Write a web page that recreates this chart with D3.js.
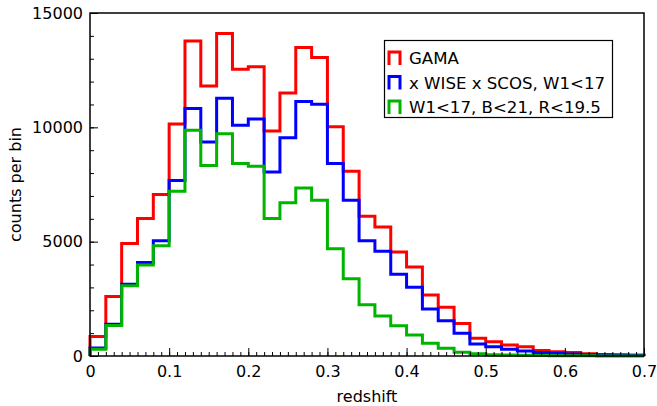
<!DOCTYPE html>
<html><head><meta charset="utf-8">
<script src="https://cdn.jsdelivr.net/npm/d3@7"></script>
<style>body{margin:0;background:#fff}svg{display:block}text{font-family:"DejaVu Sans",sans-serif}</style>
</head><body><div id="chart"></div>
<script>
const binStart = 0, binWidth = 0.02;
const gama = [850,2600,4920,6010,7060,10150,13780,11810,14100,12540,12650,9840,11500,13490,13050,10030,8080,6110,5640,4550,3890,2670,2130,1420,780,620,480,400,240,190,150,100,70,60,40];
const wise = [350,1390,3140,4090,5040,7680,10820,9360,11270,10090,10360,8050,9540,11130,11010,8420,6810,5040,4580,3580,3010,2050,1540,1000,520,400,290,220,150,120,90,60,40,30,20];
const cut = [300,1330,3070,3980,4820,7210,9870,8330,9720,8420,8300,6010,6700,7350,6810,4690,3380,2240,1750,1320,920,560,340,160,100,60,40,30,20,15,10,8,5,4,3];
const seriesNames = ["GAMA","x WISE x SCOS, W1<17","W1<17, B<21, R<19.5"];
const seriesColors = ["#ff0000","#0000ff","#00b400"];
const xTicks = [0,0.1,0.2,0.3,0.4,0.5,0.6,0.7];
const yTicks = [0,5000,10000,15000];

const W=657,H=406,FS=16;
const m={l:90,r:13,t:13,b:50};
const svg=d3.select("#chart").append("svg").attr("width",W).attr("height",H);
const x=d3.scaleLinear().domain([0,0.7]).range([m.l,W-m.r]);
const y=d3.scaleLinear().domain([0,15000]).range([H-m.b,m.t]);

function stepPts(vals){
  const pts=[[binStart,0]];
  vals.forEach((v,i)=>{pts.push([binStart+i*binWidth,v]);pts.push([binStart+(i+1)*binWidth,v]);});
  pts.push([binStart+vals.length*binWidth,0]);
  return pts;
}
const line=d3.line().x(d=>x(d[0])).y(d=>y(d[1]));
const g=svg.append("g");
[gama,wise,cut].forEach((vals,i)=>{
  g.append("path").attr("d",line(stepPts(vals))).attr("fill","none")
   .attr("stroke",seriesColors[i]).attr("stroke-width",3).attr("stroke-linejoin","miter");
});

// frame
svg.append("rect").attr("x",x(0)).attr("y",y(15000)).attr("width",x(0.7)-x(0)).attr("height",y(0)-y(15000))
  .attr("fill","none").attr("stroke","#000").attr("stroke-width",1.5);

// x axis
const xa=svg.append("g").attr("transform",`translate(0,${y(0)})`);
xa.call(d3.axisBottom(x).tickValues(d3.range(0,71).map(i=>i/100)).tickSize(-4).tickFormat(""));
xa.select(".domain").remove();
const xa2=svg.append("g").attr("transform",`translate(0,${y(0)})`);
xa2.call(d3.axisBottom(x).tickValues(xTicks).tickSize(-8).tickPadding(10).tickFormat(d=>d===0?"0":d3.format(".1f")(d)));
xa2.select(".domain").remove();
// y axis
const ya=svg.append("g").attr("transform",`translate(${x(0)},0)`);
ya.call(d3.axisLeft(y).tickValues(d3.range(0,15001,1000)).tickSize(-4).tickFormat(""));
ya.select(".domain").remove();
const ya2=svg.append("g").attr("transform",`translate(${x(0)},0)`);
ya2.call(d3.axisLeft(y).tickValues(yTicks).tickSize(-8).tickPadding(7).tickFormat(d3.format("d")));
ya2.select(".domain").remove();
svg.selectAll(".tick line").attr("stroke","#000").attr("stroke-width",1);
svg.selectAll(".tick text").attr("font-size",FS).attr("fill","#000").attr("font-family","DejaVu Sans");

svg.append("text").attr("x",(x(0)+x(0.7))/2).attr("y",402).attr("text-anchor","middle")
  .attr("font-size",FS).text("redshift");
svg.append("text").attr("transform",`translate(21,${(y(0)+y(15000))/2}) rotate(-90)`).attr("text-anchor","middle")
  .attr("font-size",FS).text("counts per bin");

// legend
const lg=svg.append("g");
lg.append("rect").attr("x",384.5).attr("y",40.5).attr("width",228).attr("height",77)
  .attr("fill","#fff").attr("stroke","#000").attr("stroke-width",1.2);
seriesNames.forEach((n,i)=>{
  const cy=58+i*24.5;
  lg.append("path").attr("d",`M389,${cy+7}V${cy-6}H400V${cy+7}`).attr("fill","none")
    .attr("stroke",seriesColors[i]).attr("stroke-width",3);
  lg.append("text").attr("x",409).attr("y",cy+6).attr("font-size",16.6).text(n);
});
</script></body></html>
